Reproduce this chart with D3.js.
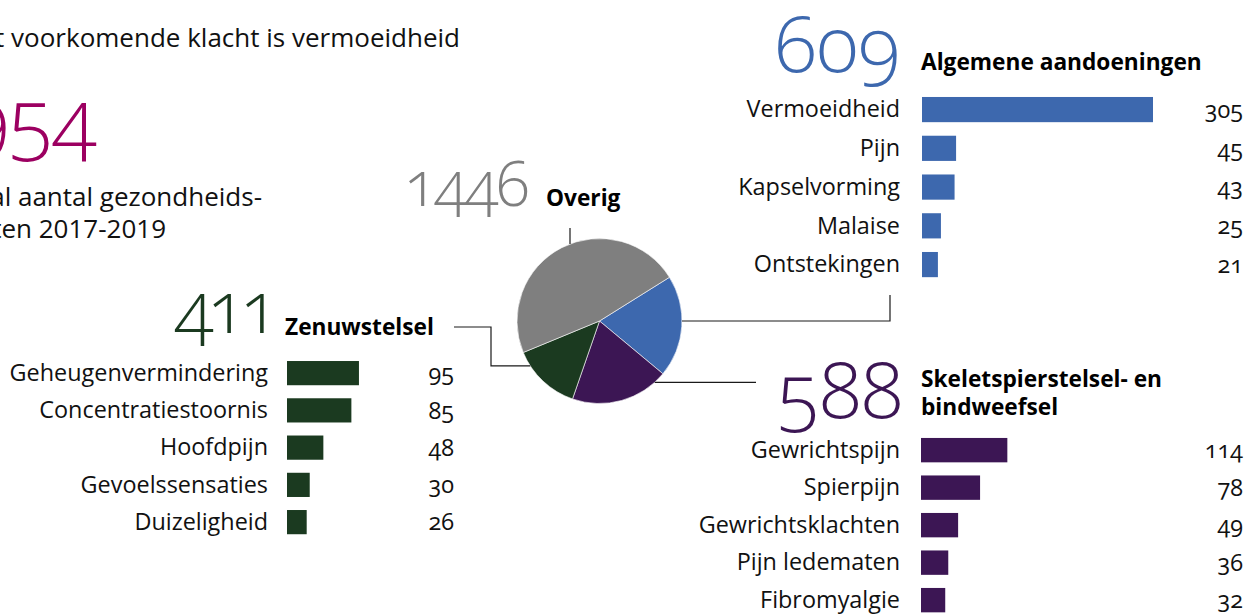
<!DOCTYPE html>
<html>
<head>
  <title>Gezondheidsklachten 2017-2019</title>
  <script src="https://d3js.org/d3.v7.min.js"></script>
  <style>
    body { margin: 0; background: #fff; font-family: "Open Sans", sans-serif; }
    svg { display: block; }
    .label { font-size: 23.4px; fill: #111; text-anchor: end; }
    .value { font-size: 23.4px; fill: #111; text-anchor: end; font-feature-settings: "onum"; }
    .title { font-size: 22.7px; font-weight: 700; fill: #000; }
    .big { font-weight: 300; text-anchor: end; font-feature-settings: "onum"; }
    .intro { font-size: 26px; fill: #111; text-anchor: end; }
    .leader { fill: none; stroke: #1a1a1a; stroke-width: 1.2; }
  </style>
</head>
<body>
  <div id="chart"></div>
  <script>
    // Data
    const groups = ["Algemene aandoeningen", "Skeletspierstelsel- en bindweefsel", "Zenuwstelsel", "Overig"];
    const groupTotals = [609, 588, 411, 1446];
    const groupColors = ["#3d68ae", "#3c1654", "#1b3a20", "#7f7f7f"];

    const algemeneLabels = ["Vermoeidheid", "Pijn", "Kapselvorming", "Malaise", "Ontstekingen"];
    const algemeneValues = [305, 45, 43, 25, 21];

    const zenuwLabels = ["Geheugenvermindering", "Concentratiestoornis", "Hoofdpijn", "Gevoelssensaties", "Duizeligheid"];
    const zenuwValues = [95, 85, 48, 30, 26];

    const skeletLabels = ["Gewrichtspijn", "Spierpijn", "Gewrichtsklachten", "Pijn ledematen", "Fibromyalgie"];
    const skeletValues = [114, 78, 49, 36, 32];

    const totalLabel = "954";
    const introText = "Meest voorkomende klacht is vermoeidheid";
    const totalText = ["Totaal aantal gezondheids-", "klachten 2017-2019"];

    const W = 1255, H = 614;
    const svg = d3.select("#chart").append("svg").attr("width", W).attr("height", H);

    // shared bar length scale
    const x = d3.scaleLinear().domain([0, 305]).range([0, 231]);

    // intro text (cut off at the left edge like the reference)
    svg.append("text").attr("class", "intro").attr("x", 460).attr("y", 47).text(introText);
    svg.append("text").attr("class", "big").attr("x", 97).attr("y", 147)
      .style("font-size", "82px").style("fill", "#9c0061").style("font-feature-settings", "lnum")
      .text(totalLabel);
    totalText.forEach((t, i) => {
      svg.append("text").attr("class", "intro").attr("x", i === 0 ? 262 : 166).attr("y", 206 + i * 32).text(t);
    });

    function panel(cfg, labels, values, color) {
      const g = svg.append("g");
      const y = d3.scaleBand().domain(labels)
        .range([cfg.top, cfg.top + labels.length * cfg.pitch])
        .paddingInner(0.35).paddingOuter(0.175);

      g.selectAll(".bar").data(values).join("rect")
        .attr("class", "bar")
        .attr("x", cfg.barX)
        .attr("y", (d, i) => y(labels[i]))
        .attr("width", d => x(d))
        .attr("height", y.bandwidth())
        .attr("fill", color);

      g.selectAll(".label").data(labels).join("text")
        .attr("class", "label")
        .attr("x", cfg.labelX)
        .attr("y", d => y(d) + y.bandwidth() / 2)
        .attr("dy", "0.33em")
        .text(d => d);

      g.selectAll(".value").data(values).join("text")
        .attr("class", "value")
        .attr("x", cfg.valueX)
        .attr("y", (d, i) => y(labels[i]) + y.bandwidth() / 2)
        .attr("dy", "0.35em")
        .text(d => d);
    }

    function header(cfg, total, titleLines, color) {
      svg.append("text").attr("class", "big")
        .attr("x", cfg.numX).attr("y", cfg.numY)
        .style("font-size", cfg.numSize + "px").style("fill", color)
        .style("letter-spacing", (cfg.spacing || 0) + "px")
        .text(total);
      const t = svg.append("text").attr("class", "title").attr("x", cfg.titleX).attr("y", cfg.titleY);
      titleLines.forEach((line, i) => {
        t.append("tspan").attr("x", cfg.titleX).attr("dy", i === 0 ? 0 : 28).text(line);
      });
    }

    // Algemene aandoeningen
    header({ numX: 900, numY: 72, numSize: 78, titleX: 921, titleY: 70 }, groupTotals[0], [groups[0]], groupColors[0]);
    panel({ top: 90.2, pitch: 38.75, barX: 922, labelX: 900, valueX: 1243 }, algemeneLabels, algemeneValues, groupColors[0]);

    // Skeletspierstelsel- en bindweefsel
    header({ numX: 903, numY: 418, numSize: 78, titleX: 921, titleY: 387 }, groupTotals[1], ["Skeletspierstelsel- en", "bindweefsel"], groupColors[1]);
    panel({ top: 431.4, pitch: 37.5, barX: 921, labelX: 900, valueX: 1243 }, skeletLabels, skeletValues, groupColors[1]);

    // Zenuwstelsel
    header({ numX: 273, numY: 333, numSize: 72, spacing: -6, titleX: 285, titleY: 335 }, groupTotals[2], [groups[2]], groupColors[2]);
    panel({ top: 354.5, pitch: 37.25, barX: 287, labelX: 268, valueX: 454 }, zenuwLabels, zenuwValues, groupColors[2]);

    // Overig
    header({ numX: 527, numY: 206, numSize: 62, spacing: -2.5, titleX: 546, titleY: 206 }, groupTotals[3], [groups[3]], groupColors[3]);

    // Pie
    const cx = 599.5, cy = 321, r = 82.5;
    const pie = d3.pie().sort(null)
      .startAngle(58 * Math.PI / 180).endAngle((58 + 360) * Math.PI / 180);
    const arcs = pie(groupTotals);
    const arc = d3.arc().innerRadius(0).outerRadius(r);
    const pg = svg.append("g").attr("transform", `translate(${cx},${cy})`);
    pg.selectAll("path").data(arcs).join("path")
      .attr("d", arc)
      .attr("fill", (d, i) => groupColors[i])
      .attr("stroke", "#fff").attr("stroke-width", 0.6);

    // leader lines: start on the pie edge at a given angle (deg, clockwise from top)
    const onPie = a => [cx + r * Math.sin(a * Math.PI / 180), cy - r * Math.cos(a * Math.PI / 180)];
    const leaders = [
      { angle: 90, route: p => [p, [890, p[1]], [890, 295]] },
      { angle: 138, route: p => [p, [756, p[1]]] },
      { angle: 237, route: p => [p, [491, p[1]], [491, 327], [454, 327]] },
      { angle: 339, route: p => [[570, p[1]], [570, 228]] }
    ];
    const line = d3.line();
    leaders.forEach(l => {
      svg.append("path").attr("class", "leader").attr("d", line(l.route(onPie(l.angle))));
    });
  </script>
</body>
</html>
